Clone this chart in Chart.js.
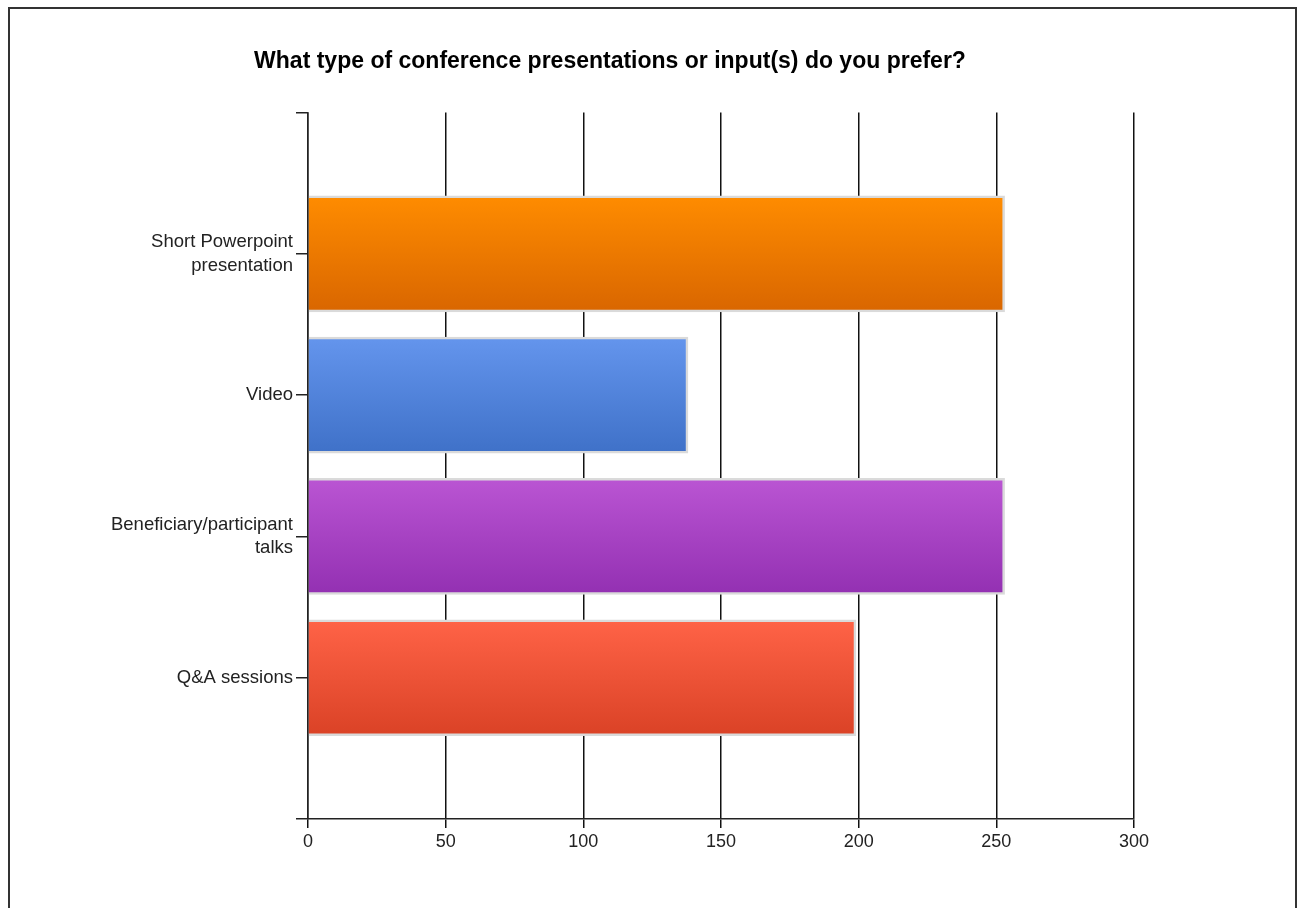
<!DOCTYPE html>
<html>
<head>
<meta charset="utf-8">
<script src="https://cdn.jsdelivr.net/npm/chart.js@4.4.1/dist/chart.umd.min.js"></script>
<style>
  body { margin: 0; background: #fff; width: 1301px; height: 908px; overflow: hidden; position: relative; }
  #frame { position: absolute; left: 8px; top: 7px; width: 1289px; height: 960px;
           border: 2px solid #333; box-sizing: border-box; }
  #wrap { position: absolute; left: 0; top: 0; width: 1220px; height: 908px; }
</style>
</head>
<body>
<div id="frame"></div>
<div id="wrap"><canvas id="prefChart"></canvas></div>
<script>
// answer options (blank slots pad the top and bottom of the axis)
const categories = ['', ['Short Powerpoint', 'presentation'], 'Video', ['Beneficiary/participant', 'talks'], 'Q&A sessions', ''];
const responses = [null, 253, 138, 253, 199, null];
const xTicks = [0, 50, 100, 150, 200, 250, 300];
const topColors = [null, '#FF8C00', '#6495ED', '#BA55D3', '#FF6347', null];
const bottomColors = [null, '#D96600', '#3F71C8', '#9330B2', '#DA4226', null];

const BAR_H = 116;
const FONT = 'Liberation Sans, Arial, sans-serif';

function barFill(context) {
    const chart = context.chart;
    const i = context.dataIndex;
    if (!topColors[i]) return 'rgba(0,0,0,0)';
    if (!chart.chartArea || !chart.scales.y) return topColors[i];
    const yc = chart.scales.y.getPixelForValue(i);
    const g = chart.ctx.createLinearGradient(0, yc - BAR_H / 2, 0, yc + BAR_H / 2);
    g.addColorStop(0, topColors[i]);
    g.addColorStop(1, bottomColors[i]);
    return g;
}

const ctx = document.getElementById('prefChart').getContext('2d');
const chart = new Chart(ctx, {
    type: 'bar',
    data: {
        labels: categories,
        datasets: [{
            data: responses,
            backgroundColor: barFill,
            borderColor: '#DADADA',
            borderWidth: 2.5,
            barThickness: BAR_H
        }]
    },
    options: {
        indexAxis: 'y',
        responsive: true,
        maintainAspectRatio: false,
        animation: false,
        layout: { padding: { left: 86, right: 86, top: 0, bottom: 0 } },
        plugins: {
            legend: { display: false },
            tooltip: { enabled: false },
            title: {
                display: true,
                text: 'What type of conference presentations or input(s) do you prefer?',
                color: '#000',
                font: { family: FONT, size: 23, weight: 'bold' },
                padding: { top: 48, bottom: 37 }
            }
        },
        scales: {
            x: {
                min: 0,
                max: 300,
                afterBuildTicks: (scale) => { scale.ticks = xTicks.map(v => ({ value: v })); },
                afterFit: (scale) => { scale.height = 89; },
                grid: { color: '#111', lineWidth: 1.5, tickLength: 9 },
                border: { color: '#222', width: 1.5 },
                ticks: {
                    color: '#222',
                    padding: 3,
                    font: { family: FONT, size: 18 }
                }
            },
            y: {
                offset: false,
                afterFit: (scale) => { scale.width = 222; },
                grid: { offset: false, drawOnChartArea: false, color: '#222', lineWidth: 1.5, tickLength: 12 },
                border: { color: '#222', width: 1.5 },
                ticks: {
                    color: '#222',
                    padding: 3,
                    font: { family: FONT, size: 18.5, lineHeight: 1.25 }
                }
            }
        }
    }
});
</script>
</body>
</html>
